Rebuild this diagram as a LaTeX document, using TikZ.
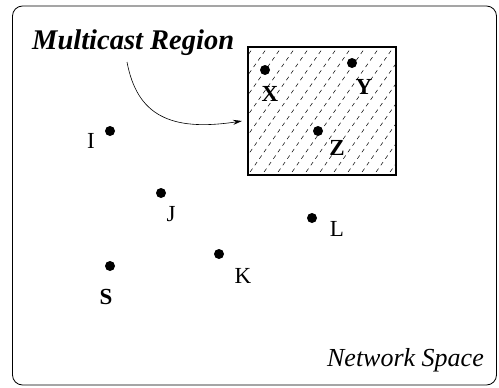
\documentclass[tikz,border=0pt]{standalone}
\usepackage{fontspec}
\setmainfont{Liberation Serif}
\usetikzlibrary{arrows.meta}
\begin{document}
\begin{tikzpicture}[x=1pt,y=-1pt,
  dot/.style={circle,fill=black,inner sep=0pt,minimum size=10pt},
  lbl/.style={font=\fontsize{23}{23}\selectfont,inner sep=0pt},
  blbl/.style={font=\fontsize{23}{23}\selectfont\bfseries,inner sep=0pt},
  hatch/.style={line width=0.5pt,dash pattern=on 4pt off 4pt}]
\useasboundingbox (0,0) rectangle (499,388);
\draw[line width=0.8pt,rounded corners=10pt] (12.5,6) rectangle (496.5,385);
% hatched region
\node[draw,line width=1.2pt,minimum width=148pt,minimum height=128pt,inner sep=0pt] (reg) at (322,111) {};
\begin{scope}
\clip (248,47) rectangle (396,175);
\foreach \k in {-10,...,12}{
  \draw[hatch] (262+14*\k-7,185) -- ++(140,-200);
}
\end{scope}
\draw[line width=1.2pt] (248,47) rectangle (396,175);
% dots
\node[dot] (X) at (265,70) {};
\node[dot] (Y) at (352,63) {};
\node[dot] (Z) at (318,131) {};
\node[dot] (I) at (110,131) {};
\node[dot] (J) at (161,193) {};
\node[dot] (L) at (312,218) {};
\node[dot] (K) at (219,254) {};
\node[dot] (S) at (110,266) {};
\node[blbl] (Xl) at (270,94) {X};
\node[blbl] (Yl) at (364,87) {Y};
\node[blbl] (Zl) at (337,148) {Z};
\node[blbl] (Sl) at (106,297) {S};
\node[lbl] (Il) at (91,141) {I};
\node[lbl] (Jl) at (171,214) {J};
\node[lbl] (Ll) at (337,229) {L};
\node[lbl] (Kl) at (243,276) {K};
\node[font=\fontsize{28.5}{28.5}\selectfont\bfseries\itshape,inner sep=0pt,anchor=south west] (mr) at (32,56) {Multicast Region};
\node[font=\fontsize{26}{26}\selectfont\itshape,inner sep=0pt,anchor=south east] (ns) at (484,372) {Network Space};
\coordinate (as) at (127,62);
\coordinate (ae) at (242,121);
\draw[line width=0.6pt,-{Stealth[length=9pt,width=5pt,inset=3pt]}] (as) .. controls (137,115) and (170,132) .. (ae);
\end{tikzpicture}
\end{document}
